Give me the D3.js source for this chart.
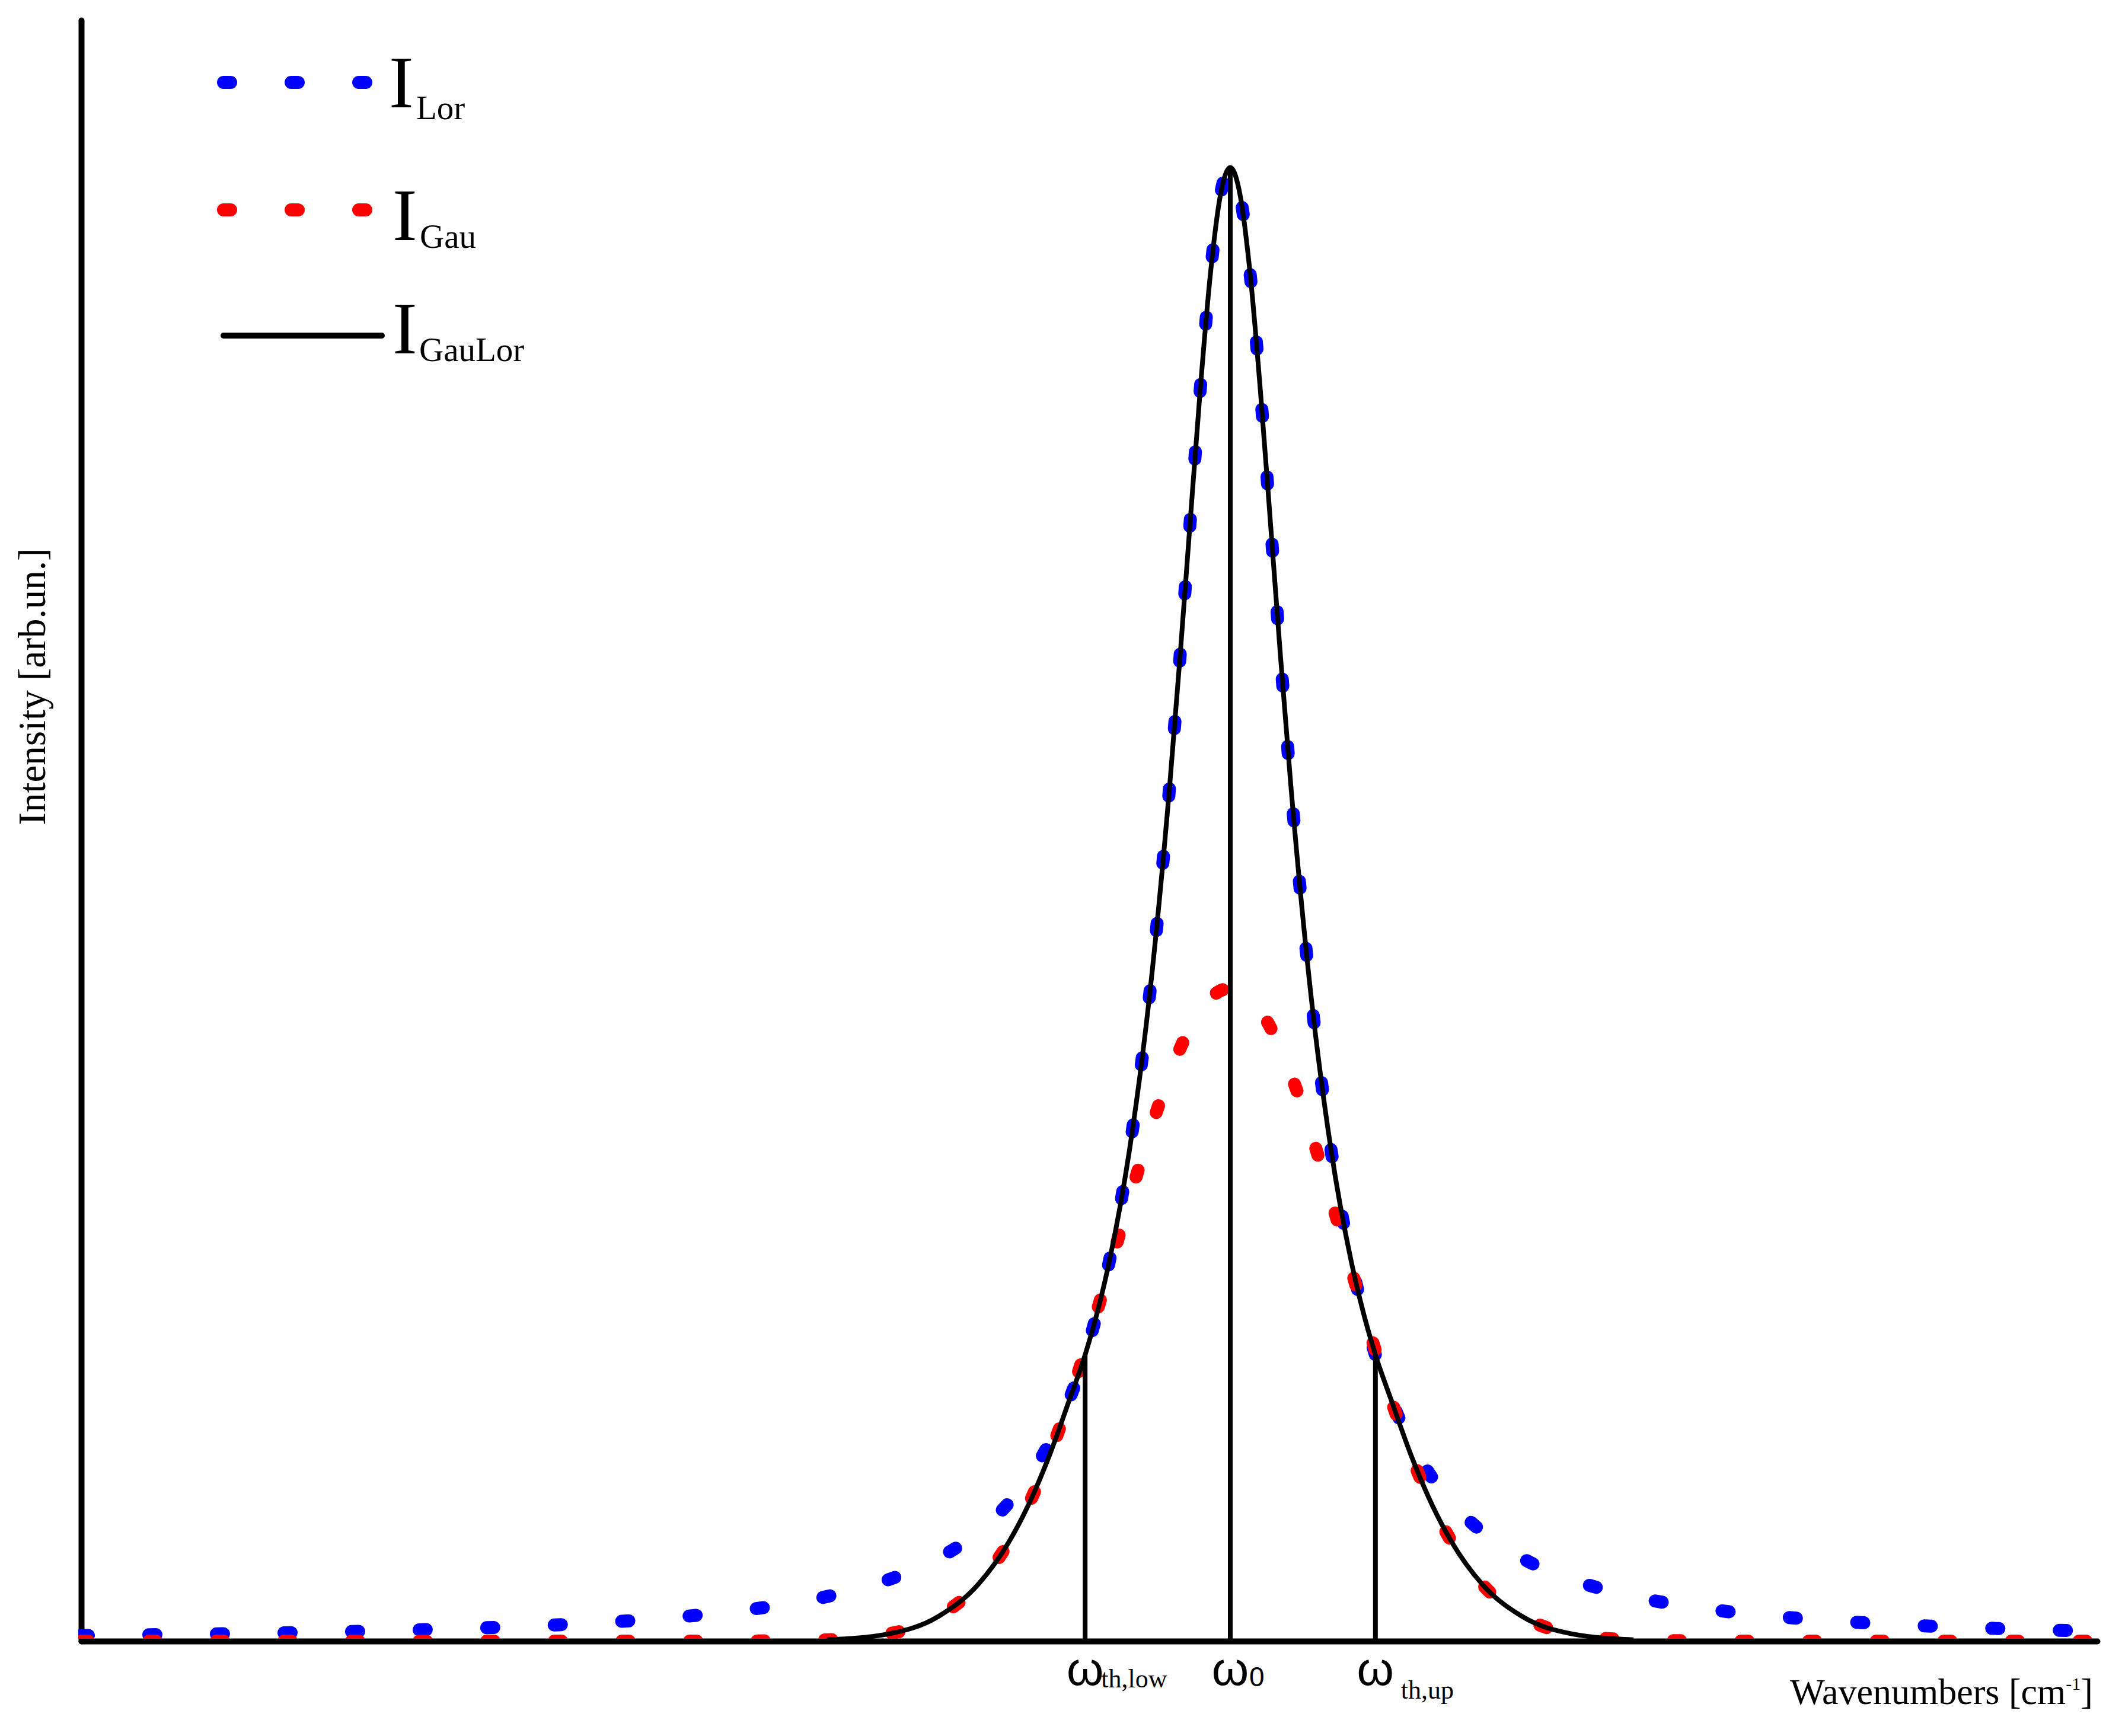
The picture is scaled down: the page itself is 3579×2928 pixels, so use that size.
<!DOCTYPE html>
<html><head><meta charset="utf-8">
<script src="https://cdn.jsdelivr.net/npm/d3@7/dist/d3.min.js"></script>
<style>body{margin:0;background:#fff}svg{display:block}</style></head>
<body><svg id="c" width="3579" height="2928"></svg>
<script>
// Wavenumber axis (arbitrary units, 0..100)
const wavenumber = [0, 7, 13, 19, 24, 29, 33, 37, 40, 42.5, 44.5, 46, 47, 48, 49, 49.8, 50.5, 51, 52, 53, 54, 54.5, 55, 55.5, 56, 56.5, 57,
  57.5, 58, 58.5, 59, 59.5, 60, 61, 62, 63, 63.5, 64.2, 65, 66, 67, 68, 69.5, 71.5, 74, 77, 81, 85, 90, 95, 100];
// Lorentzian profile I_Lor
const iLor = [0.0038, 0.0050, 0.0064, 0.0086, 0.0113, 0.0157, 0.0212, 0.0303, 0.0415, 0.0561, 0.0741, 0.0936, 0.1111, 0.1337, 0.1634, 0.1943, 0.2283, 0.2577, 0.3333, 0.4386, 0.5814, 0.6667, 0.7576, 0.8475, 0.9259, 0.9804, 1.0,
  0.9804, 0.9259, 0.8475, 0.7576, 0.6667, 0.5814, 0.4386, 0.3333, 0.2577, 0.2283, 0.1943, 0.1634, 0.1337, 0.1111, 0.0936, 0.0741, 0.0561, 0.0415, 0.0303, 0.0212, 0.0157, 0.0113, 0.0086, 0.0067];
// Gaussian profile I_Gau
const iGau = [0, 0, 0, 0, 0, 0, 0.0001, 0.0009, 0.0048, 0.0166, 0.0386, 0.0669, 0.0928, 0.1250, 0.1630, 0.1971, 0.2289, 0.2524, 0.2998, 0.3450, 0.3849, 0.4018, 0.4162, 0.4277, 0.4361, 0.4413, 0.443,
  0.4413, 0.4361, 0.4277, 0.4162, 0.4018, 0.3849, 0.3450, 0.2998, 0.2524, 0.2289, 0.1971, 0.1630, 0.1250, 0.0928, 0.0669, 0.0386, 0.0166, 0.0048, 0.0009, 0.0001, 0, 0, 0, 0];
// Combined profile I_GauLor (null = not drawn)
const iGauLor = [null, null, null, null, null, null, null, 0.0009, 0.0048, 0.0166, 0.0386, 0.0669, 0.0928, 0.1250, 0.1630, 0.1943, 0.2283, 0.2577, 0.3333, 0.4386, 0.5814, 0.6667, 0.7576, 0.8475, 0.9259, 0.9804, 1.0,
  0.9804, 0.9259, 0.8475, 0.7576, 0.6667, 0.5814, 0.4386, 0.3333, 0.2577, 0.2283, 0.1943, 0.1630, 0.1250, 0.0928, 0.0669, 0.0386, 0.0166, 0.0048, 0.0009, null, null, null, null, null];
// Marker lines
const markerX = [49.8, 57, 64.2];
const markerTop = [0.1943, 1.0, 0.1943];
const markerSub = ["th,low", "0", "th,up"];
// Legend
const legendNames = ["Lor", "Gau", "GauLor"];
const legendColors = ["#0000ff", "#ff0000", "#000000"];

const W = 3579, H = 2928;
const serif = "'Liberation Serif','Times New Roman',serif";
const sans = "'Liberation Sans',Arial,sans-serif";
const svg = d3.select('#c');
svg.append('rect').attr('width', W).attr('height', H).attr('fill', '#fff');

const x = d3.scaleLinear().domain([0, 100]).range([137, 3537]);
const y = d3.scaleLinear().domain([0, 1.1]).range([2768, 34]);

// axes
const gx = svg.append('g').attr('transform', `translate(0,${y(0)})`)
  .call(d3.axisBottom(x).tickValues([]).tickSizeOuter(0));
const gy = svg.append('g').attr('transform', `translate(${x(0)},0)`)
  .call(d3.axisLeft(y).tickValues([]).tickSizeOuter(0));
[gx, gy].forEach(g => g.select('.domain').attr('stroke', '#000').attr('stroke-width', 10).attr('stroke-linecap', 'round'));

svg.append('clipPath').attr('id', 'clip').append('rect')
  .attr('x', 132).attr('y', 0).attr('width', W - 132).attr('height', y(0) - 4);

const idx = d3.range(wavenumber.length);
const mkLine = arr => d3.line().defined(i => arr[i] !== null)
  .x(i => x(wavenumber[i])).y(i => y(arr[i])).curve(d3.curveMonotoneX);

const plot = svg.append('g').attr('clip-path', 'url(#clip)');
const dotStyle = sel => sel.attr('fill', 'none').attr('stroke-width', 22)
  .attr('stroke-dasharray', '12,102').attr('stroke-linecap', 'round');

plot.append('path').datum(idx).attr('d', mkLine(iLor)).attr('stroke', legendColors[0]).call(dotStyle);
plot.append('path').datum(idx).attr('d', mkLine(iGau)).attr('stroke', legendColors[1]).call(dotStyle);
plot.append('path').datum(idx).attr('d', mkLine(iGauLor)).attr('fill', 'none')
  .attr('stroke', '#000').attr('stroke-width', 8).attr('stroke-linejoin', 'round');

// marker lines
svg.selectAll('line.mk').data(markerX).join('line').attr('class', 'mk')
  .attr('x1', d => x(d)).attr('x2', d => x(d))
  .attr('y1', y(0)).attr('y2', (d, i) => y(markerTop[i]))
  .attr('stroke', '#000').attr('stroke-width', 8);

// marker labels
const subDx = [27, 32, 43];
const subBase = [2846, 2844, 2865];
markerX.forEach((m, i) => {
  svg.append('text').attr('x', x(m)).attr('y', 2842).attr('text-anchor', 'middle')
    .attr('font-family', sans).attr('font-size', 80).text('ω');
  svg.append('text').attr('x', x(m) + subDx[i]).attr('y', subBase[i])
    .attr('font-family', i === 1 ? sans : serif).attr('font-size', i === 1 ? 46 : 44).text(markerSub[i]);
});

// axis titles
svg.append('text').attr('transform', 'translate(76,1158) rotate(-90)').attr('text-anchor', 'middle')
  .attr('font-family', serif).attr('font-size', 65).text('Intensity [arb.un.]');
const xt = svg.append('text').attr('x', 3530).attr('y', 2874).attr('text-anchor', 'end')
  .attr('font-family', serif).attr('font-size', 62);
xt.append('tspan').text('Wavenumbers [cm');
xt.append('tspan').attr('font-size', 30).attr('dy', -24).text('-1');
xt.append('tspan').attr('dy', 24).text(']');

// legend
const legY = [139, 354, 566];
const legIBase = [181, 405, 596];
const legSubBase = [201, 418, 609];
const legIX = [656, 662, 662];
const legSubX = [702, 708, 707];
legendNames.forEach((n, i) => {
  const p = svg.append('path').attr('d', d3.line()([[377, legY[i]], [i === 2 ? 644 : 618, legY[i]]]))
    .attr('stroke', legendColors[i]);
  if (i < 2) p.call(dotStyle); else p.attr('stroke-width', 10).attr('stroke-linecap', 'round');
  svg.append('text').attr('x', legIX[i]).attr('y', legIBase[i]).attr('font-family', serif)
    .attr('font-size', 125).text('I');
  svg.append('text').attr('x', legSubX[i]).attr('y', legSubBase[i]).attr('font-family', serif)
    .attr('font-size', 57).text(n);
});
</script></body></html>
